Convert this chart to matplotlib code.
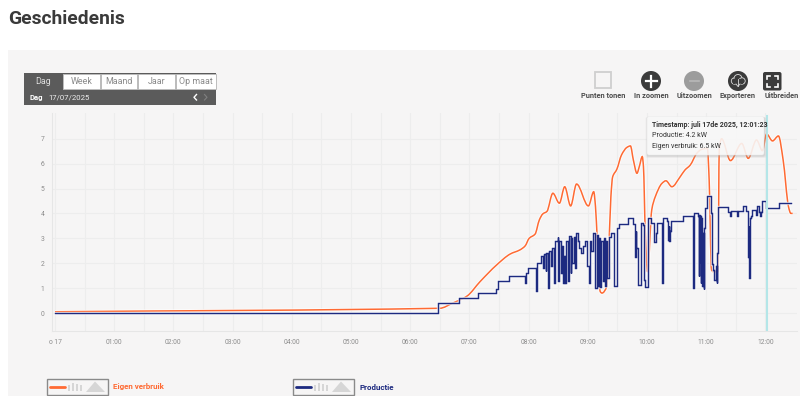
import matplotlib
matplotlib.use("Agg")
import matplotlib.pyplot as plt
import numpy as np
from matplotlib.patches import Rectangle, Circle, FancyBboxPatch, Polygon
from matplotlib.path import Path
from matplotlib.patches import PathPatch
import matplotlib.patheffects as pe

plt.rcParams['font.family'] = ['Roboto', 'DejaVu Sans']

# ---------- data ----------
verbruik_h = [0.00, 6.50, 6.72, 6.96, 7.18, 7.46, 7.69, 7.85, 7.94, 8.01, 8.11, 8.18, 8.24, 8.31,
              8.41, 8.52, 8.61, 8.71, 8.81, 9.01, 9.10, 9.13, 9.16, 9.21, 9.24, 9.32, 9.35, 9.39,
              9.42, 9.49, 9.57, 9.66, 9.72, 9.77, 9.83, 9.87, 9.92, 9.94, 9.97, 10.01, 10.08,
              10.14, 10.25, 10.32, 10.42, 10.56, 10.64, 10.73, 10.84, 10.92, 11.02, 11.05, 11.09,
              11.12, 11.20, 11.22, 11.26, 11.41, 11.60, 11.71, 11.85, 11.95, 12.02, 12.12, 12.22,
              12.30, 12.39, 12.43, 12.46]
verbruik_kw = [0.05, 0.19, 0.40, 0.68, 1.26, 1.93, 2.37, 2.53, 2.69, 3.00, 3.17, 3.73, 3.98, 4.08,
               4.81, 4.41, 5.07, 4.30, 5.18, 4.30, 4.87, 4.27, 2.93, 0.86, 0.80, 1.06, 2.26, 4.67,
               5.47, 5.77, 6.35, 6.65, 6.71, 6.14, 5.61, 5.88, 6.28, 5.88, 3.33, 1.65, 4.14,
               4.67, 5.20, 5.31, 5.07, 5.47, 5.74, 5.94, 6.41, 6.57, 6.61, 5.34, 1.73,
               1.66, 1.66, 6.55, 7.00, 6.12, 6.81, 6.21, 6.95, 6.52, 7.19, 6.91, 7.11,
               6.14, 4.27, 4.00, 4.00]

productie_h = [0.00, 6.47, 6.82, 7.14, 7.45, 7.49, 7.67, 7.94, 7.95, 7.99, 8.13, 8.14, 8.21, 8.24,
               8.26, 8.29, 8.30, 8.32, 8.34, 8.37, 8.39, 8.43, 8.45, 8.49, 8.50, 8.52, 8.54, 8.56,
               8.58, 8.60, 8.62, 8.63, 8.66, 8.68, 8.71, 8.72, 8.74, 8.76, 8.78, 8.80, 8.83, 8.85,
               8.88, 8.92, 8.96, 8.98, 8.99, 9.02, 9.04, 9.06, 9.08, 9.13, 9.15, 9.17, 9.19, 9.21,
               9.23, 9.25, 9.27, 9.29, 9.31, 9.33, 9.35, 9.39, 9.44, 9.49, 9.53, 9.68, 9.77, 9.80,
               9.81, 9.82, 9.84, 9.90, 9.93, 9.95, 9.97, 10.02, 10.07, 10.12, 10.15, 10.17, 10.26,
               10.27, 10.33, 10.36, 10.37, 10.38, 10.39, 10.40, 10.61, 10.78, 10.80, 10.86, 10.87,
               10.88, 10.89, 10.90, 10.91, 10.92, 10.93, 10.94, 10.96, 10.97, 10.98, 11.01, 11.08,
               11.09, 11.10, 11.12, 11.14, 11.16, 11.18, 11.19, 11.20, 11.37, 11.40, 11.42, 11.52,
               11.53, 11.62, 11.67, 11.71, 11.72, 11.73, 11.74, 11.76, 11.78, 11.84, 11.85, 11.89,
               11.91, 11.92, 11.94, 12.01, 12.23, 12.44]
productie_kw = [0.00, 0.39, 0.59, 0.79, 0.96, 1.30, 1.50, 1.20, 1.60, 1.80, 0.90, 2.00, 2.29, 1.80,
                2.35, 1.70, 2.40, 1.00, 2.50, 1.90, 2.60, 1.20, 2.90, 3.05, 1.30, 2.90, 1.60, 2.70,
                1.20, 2.30, 1.20, 2.90, 1.30, 3.10, 1.60, 3.00, 2.00, 3.05, 1.80, 3.20, 2.90, 2.60,
                2.40, 2.70, 2.90, 2.40, 1.90, 1.20, 2.90, 2.50, 3.20, 1.00, 3.15, 1.10, 3.00, 1.05,
                2.90, 1.30, 3.00, 1.08, 2.90, 1.40, 3.05, 3.20, 1.08, 3.40, 3.57, 3.80, 3.57, 2.26,
                3.30, 2.60, 1.12, 3.60, 3.55, 1.33, 1.04, 3.81, 3.60, 2.87, 3.20, 3.60, 1.22,
                3.80, 3.71, 2.93, 3.50, 2.90, 3.30, 3.71, 3.90, 0.99, 4.00, 3.90, 1.50,
                3.95, 2.00, 3.90, 1.20, 3.80, 1.10, 3.20, 0.95, 3.40, 4.20, 4.70, 4.00,
                3.06, 1.95, 1.73, 1.33, 1.90, 1.20, 2.40, 4.27, 4.07, 3.90, 4.10, 3.90,
                4.10, 4.30, 4.10, 2.26, 3.50, 1.39, 3.80, 3.90, 4.13, 3.95, 4.30, 4.05,
                3.90, 4.05, 4.51, 4.20, 4.40, 4.40]

hover_hour = 12.02
x_ticks = list(range(0, 13))
x_labels = ['o 17', '01:00', '02:00', '03:00', '04:00', '05:00', '06:00', '07:00', '08:00',
            '09:00', '10:00', '11:00', '12:00']
y_ticks = list(range(0, 8))

tab_labels = ['Dag', 'Week', 'Maand', 'Jaar', 'Op maat']
tool_labels = ['Punten tonen', 'In zoomen', 'Uitzoomen', 'Exporteren', 'Uitbreiden']
tooltip_lines = ['Timestamp: juli 17de 2025, 12:01:23', 'Productie: 4.2 kW', 'Eigen verbruik: 6.5 kW']

ORANGE = '#ff6a33'
NAVY = '#1d2a80'
PANEL = '#f6f5f5'
W, H = 800, 396

fig = plt.figure(figsize=(8.0, 3.96), dpi=100, facecolor='white')

# page layer in pixel coordinates
bg = fig.add_axes([0, 0, 1, 1], zorder=0)
bg.set_xlim(0, W); bg.set_ylim(H, 0); bg.axis('off')
bg.add_patch(Rectangle((8, 50), W - 8, H - 50, fc=PANEL, ec='none'))
bg.text(8, 19.5, 'Geschiedenis', fontsize=13.9, fontweight='bold', color='#3a3a3a', va='center', ha='left')

# chart
x0, x1, ytop, ybot = 52, 797, 113, 331
ax = fig.add_axes([x0 / W, 1 - ybot / H, (x1 - x0) / W, (ybot - ytop) / H], zorder=1)
ax.patch.set_alpha(0)
ax.set_xlim((x0 - 55) / 59.2, (x1 - 55) / 59.2)
ax.set_ylim((313 - ybot) / 24.9, (313 - ytop) / 24.9)
for s in ('top', 'right'):
    ax.spines[s].set_visible(False)
for s in ('left', 'bottom'):
    ax.spines[s].set_color('#e6e6e6')
    ax.spines[s].set_linewidth(0.8)
ax.set_xticks(x_ticks)
ax.set_xticklabels(x_labels)
ax.set_yticks(y_ticks)
ax.set_xticks(np.arange(0.5, 12.5, 1), minor=True)
ax.tick_params(which='both', length=0)
ax.tick_params(axis='x', labelsize=4.9, labelcolor='#8c8c8c', pad=6)
ax.tick_params(axis='y', labelsize=4.9, labelcolor='#8c8c8c', pad=5.5)
ax.grid(True, which='both', color='#ededed', lw=0.8)
ax.set_axisbelow(True)


def smooth_path(xs, ys):
    """Monotone cubic drawing of the read points (the original uses a spline line)."""
    xs, ys = np.asarray(xs, float), np.asarray(ys, float)
    dx = np.diff(xs); sl = np.diff(ys) / dx
    m = np.zeros_like(xs)
    m[0], m[-1] = sl[0], sl[-1]
    for i in range(1, len(xs) - 1):
        if sl[i - 1] * sl[i] > 0:
            m[i] = 2 * sl[i - 1] * sl[i] / (sl[i - 1] + sl[i])
    verts, codes = [(xs[0], ys[0])], [Path.MOVETO]
    for i in range(len(dx)):
        verts += [(xs[i] + dx[i] / 3, ys[i] + m[i] * dx[i] / 3),
                  (xs[i + 1] - dx[i] / 3, ys[i + 1] - m[i + 1] * dx[i] / 3),
                  (xs[i + 1], ys[i + 1])]
        codes += [Path.CURVE4] * 3
    return Path(verts, codes)


halo = [pe.Stroke(linewidth=2.4, foreground='white', alpha=0.75), pe.Normal()]
ax.add_patch(PathPatch(smooth_path(verbruik_h, verbruik_kw), fc='none', ec=ORANGE, lw=1.1,
                       zorder=3, path_effects=halo, clip_on=False))
ax.plot(productie_h, productie_kw, drawstyle='steps-post', color=NAVY, lw=1.05, zorder=4,
        solid_joinstyle='miter', path_effects=halo)
ax.axvline(hover_hour, ymax=0.986, color='#b4e6e8', lw=1.5, zorder=5)

# UI layer in pixel coordinates
ui = fig.add_axes([0, 0, 1, 1], zorder=2)
ui.set_xlim(0, W); ui.set_ylim(H, 0); ui.axis('off'); ui.patch.set_alpha(0)

# tab bar
DARK = '#5b5b5b'
ui.add_patch(Rectangle((24, 73), 192, 32, fc=DARK, ec='none'))
tabs = [(24, 62), (63, 100), (101, 137), (138, 175), (176, 216)]
for i, ((a, b), lab) in enumerate(zip(tabs, tab_labels)):
    if i:
        ui.add_patch(Rectangle((a, 73.5), b - a, 15, fc='white', ec='#bdbdbd', lw=0.7))
    ui.text((a + b) / 2, 81, lab, fontsize=6.4, color='#dddddd' if i == 0 else '#8a8a8a',
            ha='center', va='center')
ui.text(30, 97.3, 'Dag', fontsize=5.5, color='white', fontweight='bold', va='center')
ui.text(48, 97.3, '17/07/2025', fontsize=5.6, color='#eeeeee', va='center')
ui.plot([196.5, 194, 196.5], [94.5, 97.3, 100], color='white', lw=1.0)
ui.plot([204.5, 207, 204.5], [94.5, 97.3, 100], color='#808080', lw=0.8)

# toolbar
ui.add_patch(Rectangle((595, 72), 16, 16, fc=PANEL, ec='#cfcfcf', lw=1.3))
ui.add_patch(Circle((651, 81), 10, fc='#3b3b3b', ec='none'))
ui.plot([645.5, 656.5], [81, 81], color='white', lw=1.6)
ui.plot([651, 651], [75.5, 86.5], color='white', lw=1.6)
ui.add_patch(Circle((694, 81), 10, fc='#9c9c9c', ec='none'))
ui.plot([689.5, 698.5], [81, 81], color='#b8b8b8', lw=1.2)
ui.add_patch(Circle((738, 81), 10, fc='#3b3b3b', ec='none'))
for cx, cy, r in [(734.5, 81, 3.2), (738, 78.5, 4), (742, 81, 3.2)]:
    ui.add_patch(Circle((cx, cy), r, fc='#3b3b3b', ec='#dddddd', lw=0.6))
ui.add_patch(Rectangle((733, 79), 10, 4.5, fc='#3b3b3b', ec='none'))
ui.plot([738, 738], [79, 86], color='#dddddd', lw=0.6)
ui.plot([736, 738, 740], [84, 86.5, 84], color='#dddddd', lw=0.6)
ui.add_patch(FancyBboxPatch((763, 72), 18.5, 18.5, boxstyle='round,pad=0,rounding_size=2',
                            fc='#3b3b3b', ec='none'))
for sx, sy in [(-1, -1), (1, -1), (1, 1), (-1, 1)]:
    cx, cy = 772.25 + sx * 5.5, 81.25 + sy * 5.5
    ui.plot([cx - sx * 3, cx, cx], [cy, cy, cy - sy * 3], color='white', lw=1.2,
            solid_joinstyle='miter')
for cx, lab in zip([603, 651, 694.5, 738, 781.5], tool_labels):
    ui.text(cx, 96.5, lab, fontsize=5.3, fontweight='bold', color='#4c4c4c', ha='center', va='center')

# tooltip
for off, a in [(2.0, 0.10), (1.2, 0.16), (0.5, 0.22)]:
    ui.add_patch(FancyBboxPatch((647 - off + 0.5, 116.5 + 0.5), 117 + 2 * off, 38.5 + off + 0.5,
                                boxstyle='round,pad=0,rounding_size=2', fc='#a8a8a8', ec='none', alpha=a))
ui.add_patch(FancyBboxPatch((647, 116.5), 117, 38.5, boxstyle='round,pad=0,rounding_size=2',
                            fc='white', ec='#e6e6e6', lw=0.4, alpha=0.82))
ui.text(652, 124.8, tooltip_lines[0], fontsize=5.05, fontweight='bold', color='#333333', va='center')
ui.text(652, 135.3, tooltip_lines[1], fontsize=5.05, color='#333333', va='center')
ui.text(652, 146, tooltip_lines[2], fontsize=5.05, color='#333333', va='center')


# legend
def legend_key(x, color, label):
    ui.add_patch(Rectangle((x, 379), 61, 16, fc=PANEL, ec='#8a8a8a', lw=1.0))
    ui.plot([x + 3, x + 18], [387, 387], color=color, lw=2.0, solid_capstyle='round')
    for dx, top in [(21, 385), (25, 383), (29, 383.5), (33, 385)]:
        ui.add_patch(Rectangle((x + dx, top), 2, 391 - top, fc='#d6d6d6', ec='none'))
    ui.add_patch(Polygon([(x + 39, 392), (x + 48, 381.5), (x + 58, 392)], fc='#d6d6d6', ec='none'))
    ui.text(x + 66, 387, label, fontsize=5.8, fontweight='bold', color=color, va='center')


legend_key(47, ORANGE, 'Eigen verbruik')
legend_key(293, NAVY, 'Productie')

fig.savefig('out.png', dpi=100, facecolor='white')
